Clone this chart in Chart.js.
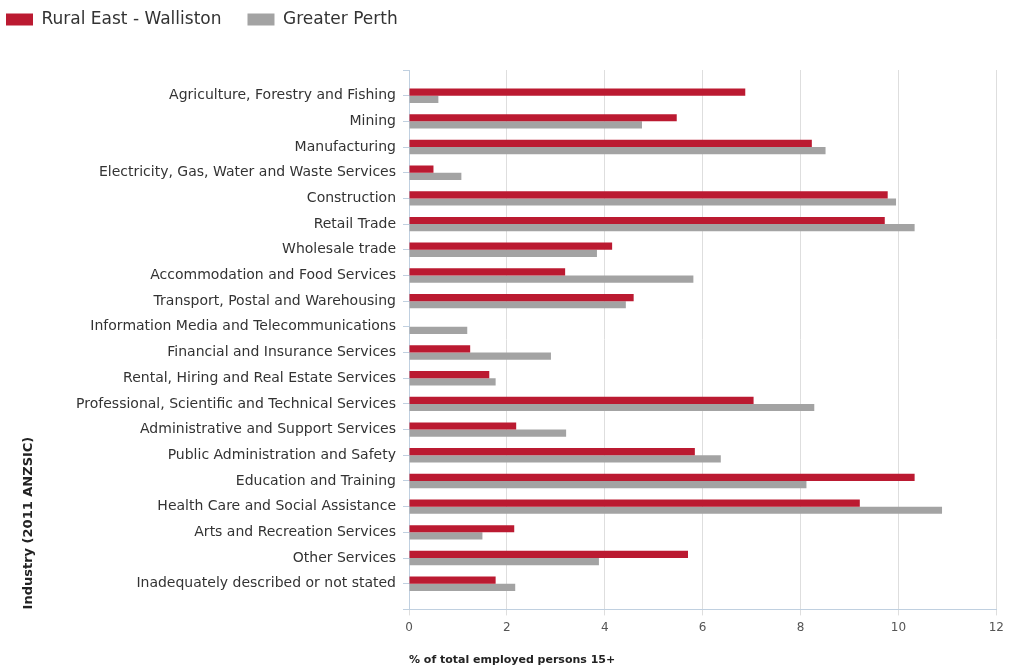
<!DOCTYPE html>
<html>
<head>
<meta charset="utf-8">
<title>Industry of employment</title>
<script src="https://cdn.jsdelivr.net/npm/chart.js@4/dist/chart.umd.min.js"></script>
<style>
  html, body { margin: 0; padding: 0; background: #ffffff; }
  #wrap { width: 1009px; height: 669px; overflow: hidden; }
</style>
</head>
<body>
<div id="wrap"><canvas id="chart" width="1009" height="669"></canvas></div>
<script>
// Industry categories (ANZSIC 2011 divisions), top to bottom
const industries = [
  'Agriculture, Forestry and Fishing',
  'Mining',
  'Manufacturing',
  'Electricity, Gas, Water and Waste Services',
  'Construction',
  'Retail Trade',
  'Wholesale trade',
  'Accommodation and Food Services',
  'Transport, Postal and Warehousing',
  'Information Media and Telecommunications',
  'Financial and Insurance Services',
  'Rental, Hiring and Real Estate Services',
  'Professional, Scientific and Technical Services',
  'Administrative and Support Services',
  'Public Administration and Safety',
  'Education and Training',
  'Health Care and Social Assistance',
  'Arts and Recreation Services',
  'Other Services',
  'Inadequately described or not stated'
];

// % of total employed persons aged 15+
const ruralEastWalliston = [6.87, 5.47, 8.23, 0.50, 9.78, 9.72, 4.15, 3.19, 4.59, 0, 1.25, 1.64, 7.04, 2.19, 5.84, 10.33, 9.21, 2.15, 5.70, 1.77];
const greaterPerth       = [0.60, 4.76, 8.51, 1.07, 9.95, 10.33, 3.84, 5.81, 4.43, 1.19, 2.90, 1.77, 8.28, 3.21, 6.37, 8.12, 10.89, 1.50, 3.88, 2.17];

const seriesNames = ['Rural East - Walliston', 'Greater Perth'];
const xMin = 0, xMax = 12, xStep = 2;

// Industries sit on whole-number rows; first industry on the highest row
const last = industries.length - 1;
const rowOf = i => last - i;
const toPoints = values => values.map((v, i) => ({ x: v, y: rowOf(i) }));

// Layout numbers
const legendPad = 26;       // spacing between legend items
const padLeft = -20;        // legend starts near the left edge despite the wide item spacing
const padTop = -15;         // same for the top edge
const plotLeft = 409;       // left edge of the plot area
const plotTop = 70;         // top edge of the plot area

// Leaves room between the legend and the plot
const legendGap = {
  id: 'legendGap',
  beforeInit(chart) {
    const fit = chart.legend.fit;
    chart.legend.fit = function () {
      fit.call(this);
      this.height = plotTop - padTop;
    };
  }
};

const axisLine = '#c0d0e0';
const gridLine = '#dedede';

new Chart(document.getElementById('chart'), {
  type: 'bar',
  data: {
    datasets: [
      { label: seriesNames[0], data: toPoints(ruralEastWalliston), backgroundColor: '#bb1a31', borderWidth: 0 },
      { label: seriesNames[1], data: toPoints(greaterPerth), backgroundColor: '#a3a3a3', borderWidth: 0 }
    ]
  },
  options: {
    indexAxis: 'y',
    responsive: false,
    animation: false,
    categoryPercentage: 0.56,
    barPercentage: 1.0,
    layout: { padding: { left: padLeft, right: 11, top: padTop, bottom: 2 } },
    plugins: {
      legend: {
        position: 'top',
        align: 'start',
        labels: {
          boxWidth: 27,
          boxHeight: 12,
          padding: legendPad,
          color: '#333333',
          font: { family: 'DejaVu Sans', size: 17 }
        }
      },
      tooltip: { enabled: false }
    },
    scales: {
      x: {
        type: 'linear',
        position: 'bottom',
        min: xMin,
        max: xMax,
        ticks: {
          stepSize: xStep,
          padding: 5,
          color: '#555555',
          font: { family: 'DejaVu Sans', size: 12 }
        },
        grid: { color: gridLine, tickLength: 6, drawTicks: true },
        border: { display: true, color: axisLine },
        title: {
          display: true,
          text: '% of total employed persons 15+',
          align: 'start',
          color: '#222222',
          font: { family: 'DejaVu Sans', size: 11, weight: 'bold' },
          padding: { top: 14, bottom: 0 }
        }
      },
      y: {
        type: 'linear',
        position: 'left',
        offset: false,
        min: -1,
        max: industries.length,
        afterFit(scale) { scale.width = plotLeft - padLeft; },
        ticks: {
          stepSize: 1,
          autoSkip: false,
          padding: 7,
          color: '#333333',
          font: { family: 'DejaVu Sans', size: 14 },
          callback: v => (v >= 0 && v <= last ? industries[last - v] : '')
        },
        grid: { offset: false, drawOnChartArea: false, drawTicks: true, tickLength: 6, color: axisLine },
        border: { display: true, color: axisLine },
        title: {
          display: true,
          text: 'Industry (2011 ANZSIC)',
          align: 'start',
          color: '#222222',
          font: { family: 'DejaVu Sans', size: 13, weight: 'bold' },
          padding: { top: 21 - padLeft, bottom: 0 }
        }
      }
    }
  },
  plugins: [legendGap]
});
</script>
</body>
</html>
